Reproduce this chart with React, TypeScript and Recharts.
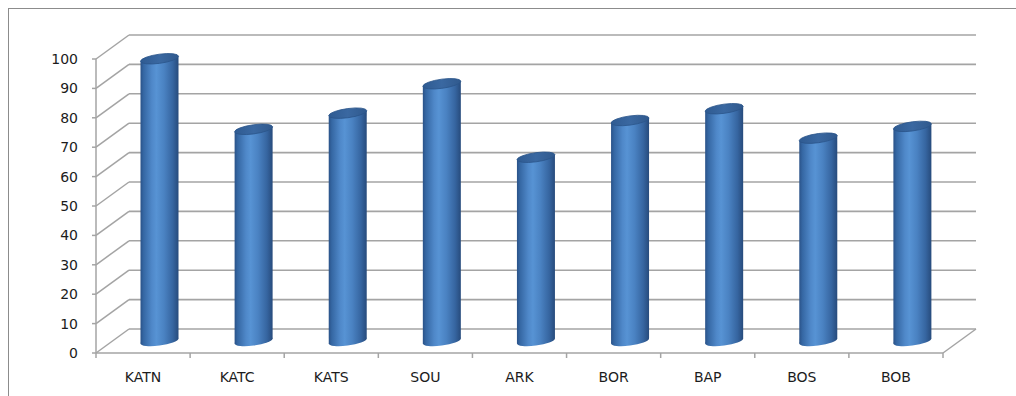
import React from 'react';
import { BarChart, Bar, XAxis, YAxis, CartesianGrid } from 'recharts';

// Station codes along the category axis
const categories = ['KATN', 'KATC', 'KATS', 'SOU', 'ARK', 'BOR', 'BAP', 'BOS', 'BOB'];
// Measured value per station
const values = [96, 72, 77.5, 87.5, 62.5, 75, 79, 69, 73];
// Value-axis tick marks
const yTicks = [0, 10, 20, 30, 40, 50, 60, 70, 80, 90, 100];

const data = categories.map((name, i) => ({ name, value: values[i] }));

// Layout
const W = 1016;
const H = 396;
const Y_AXIS_W = 60;
const X_AXIS_H = 30;
const MARGIN = { top: 59, right: 73, bottom: 396 - 353 - X_AXIS_H, left: 96 - Y_AXIS_W };
const PLOT_LEFT = MARGIN.left + Y_AXIS_W;
const PLOT_RIGHT = W - MARGIN.right;
const BAND = (PLOT_RIGHT - PLOT_LEFT) / categories.length;

// Offset from the front plane to the back wall of the 3-D box
const DEPTH_X = 33;
const DEPTH_Y = -24;

const X_TICK_SIZE = 5;
const X_TICK_MARGIN = 14;

const GRID = '#a4a4a4';
const TEXT = '#1c1c1c';
const FONT = '"DejaVu Sans", Verdana, sans-serif';
const FONT_SIZE = 14;

const SKEW = -7.5;
const CAP_RY = 4.6;

// Left-wall diagonal plus the back-wall gridline for one value tick
const WallLine = (p: any) => {
  const { x1, y1, x2 } = p;
  const bx1 = x1 + DEPTH_X;
  const bx2 = x2 + DEPTH_X;
  const by = y1 + DEPTH_Y;
  return (
    <g>
      <line x1={x1} y1={y1} x2={bx1} y2={by} stroke={GRID} strokeWidth={1.5} />
      <line x1={bx1} y1={by} x2={bx2} y2={by} stroke={GRID} strokeWidth={1.6} />
    </g>
  );
};

// Category label with tick marks at the band boundaries
const CategoryTick = (p: any) => {
  const { x, y, payload, index } = p;
  const axisY = y - X_TICK_SIZE - X_TICK_MARGIN;
  const left = x - BAND / 2;
  const right = x + BAND / 2;
  const last = index === categories.length - 1;
  return (
    <g>
      <line x1={left} y1={axisY} x2={left} y2={axisY + X_TICK_SIZE} stroke={GRID} strokeWidth={1.5} />
      {last && (
        <>
          <line x1={right} y1={axisY} x2={right} y2={axisY + X_TICK_SIZE} stroke={GRID} strokeWidth={1.5} />
          <line x1={right} y1={axisY} x2={right + DEPTH_X} y2={axisY + DEPTH_Y} stroke={GRID} strokeWidth={1.5} />
        </>
      )}
      <text x={x} y={y} dy="0.71em" textAnchor="middle" fill={TEXT} fontSize={FONT_SIZE} fontFamily={FONT}>
        {payload.value}
      </text>
    </g>
  );
};

// Shaded cylinder standing in the middle of the box depth
const Cylinder = (p: any) => {
  const { x, y, width, height, index } = p;
  if (width == null || height == null) return null;
  const r = width / 2;
  const cx = x + r + DEPTH_X / 2;
  const top = y + DEPTH_Y / 2;
  const bottom = y + height + DEPTH_Y / 2;
  const sideId = `cyl-side-${index}`;
  const capId = `cyl-cap-${index}`;
  return (
    <g transform={`translate(${cx},0) skewY(${SKEW})`}>
      <defs>
        <linearGradient id={sideId} x1="0" y1="0" x2="1" y2="0">
          <stop offset="0%" stopColor="#2a5288" />
          <stop offset="8%" stopColor="#3567a3" />
          <stop offset="30%" stopColor="#4f88c9" />
          <stop offset="42%" stopColor="#5793d4" />
          <stop offset="62%" stopColor="#4a82c2" />
          <stop offset="85%" stopColor="#3665a0" />
          <stop offset="100%" stopColor="#274b7c" />
        </linearGradient>
        <linearGradient id={capId} x1="0" y1="0" x2="1" y2="0">
          <stop offset="0%" stopColor="#2f5b92" />
          <stop offset="50%" stopColor="#3a68a1" />
          <stop offset="100%" stopColor="#30598d" />
        </linearGradient>
      </defs>
      <ellipse cx={0} cy={bottom} rx={r} ry={CAP_RY} fill={`url(#${sideId})`} />
      <rect x={-r} y={top} width={2 * r} height={Math.max(0, bottom - top)} fill={`url(#${sideId})`} />
      <ellipse cx={0} cy={top} rx={r} ry={CAP_RY} fill={`url(#${capId})`} stroke="#2b558a" strokeWidth={0.8} />
    </g>
  );
};

export default function App() {
  return (
    <div style={{ position: 'absolute', left: 0, top: 0, width: W, height: H, overflow: 'hidden', background: '#fff' }}>
      <div
        style={{
          position: 'absolute',
          left: 8,
          top: 8,
          width: 1100,
          height: 500,
          border: '1px solid #8c8c8c',
          boxSizing: 'border-box',
        }}
      />
      <div style={{ position: 'absolute', left: 0, top: 0 }}>
        <BarChart width={W} height={H} data={data} margin={MARGIN}>
          <CartesianGrid horizontal={WallLine} vertical={false} />
          <XAxis
            dataKey="name"
            height={X_AXIS_H}
            interval={0}
            tickLine={false}
            tickSize={X_TICK_SIZE}
            tickMargin={X_TICK_MARGIN}
            axisLine={{ stroke: GRID, strokeWidth: 1.5 }}
            tick={<CategoryTick />}
          />
          <YAxis
            width={Y_AXIS_W}
            domain={[0, 100]}
            ticks={yTicks}
            interval={0}
            tickSize={4}
            tickMargin={14}
            axisLine={{ stroke: GRID, strokeWidth: 1.5 }}
            tickLine={{ stroke: GRID, strokeWidth: 1.5 }}
            tick={{ fill: TEXT, fontSize: FONT_SIZE, fontFamily: FONT }}
          />
          <Bar dataKey="value" barSize={38} isAnimationActive={false} shape={<Cylinder />} />
        </BarChart>
      </div>
    </div>
  );
}
